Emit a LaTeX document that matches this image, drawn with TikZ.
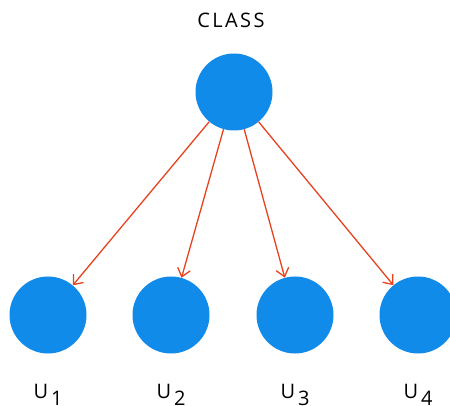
\documentclass[tikz,border=0pt]{standalone}
\usepackage{fontspec}
\setmainfont{Open Sans}
\usetikzlibrary{arrows.meta}
\definecolor{nodeblue}{HTML}{118BEA}
\definecolor{arrowred}{HTML}{E8411E}
\tikzset{
  ball/.style={circle, fill=nodeblue, draw=none, minimum size=77pt, inner sep=0pt},
  edge/.style={draw=arrowred, line width=1.3pt, -{Straight Barb[length=8pt,width=13pt,line width=1.3pt]}},
  lbl/.style={font=\fontsize{20}{24}\selectfont, inner sep=0pt, anchor=base},
}
\newcommand{\ulabel}[1]{U\hspace{3pt}\raisebox{-7pt}{#1}}
\begin{document}
\begin{tikzpicture}[x=1pt,y=-1pt]
\useasboundingbox (0,0) rectangle (450,406);
\clip (0,0) rectangle (450,406);
\node[ball] (top) at (234,92) {};
\node[ball] (u1) at (48,315) {};
\node[ball] (u2) at (171,315) {};
\node[ball] (u3) at (295,315) {};
\node[ball] (u4) at (418,315) {};
\node[lbl] (cls) at (231,28) {\addfontfeatures{LetterSpace=12}CLASS};
\node[lbl] (l1) at (48,398) {\ulabel{1}};
\node[lbl] (l2) at (171,398) {\ulabel{2}};
\node[lbl] (l3) at (295,398) {\ulabel{3}};
\node[lbl] (l4) at (418,398) {\ulabel{4}};
\draw[edge] (top) -- (u1);
\draw[edge] (top) -- (u2);
\draw[edge] (top) -- (u3);
\draw[edge] (top) -- (u4);
\end{tikzpicture}
\end{document}
